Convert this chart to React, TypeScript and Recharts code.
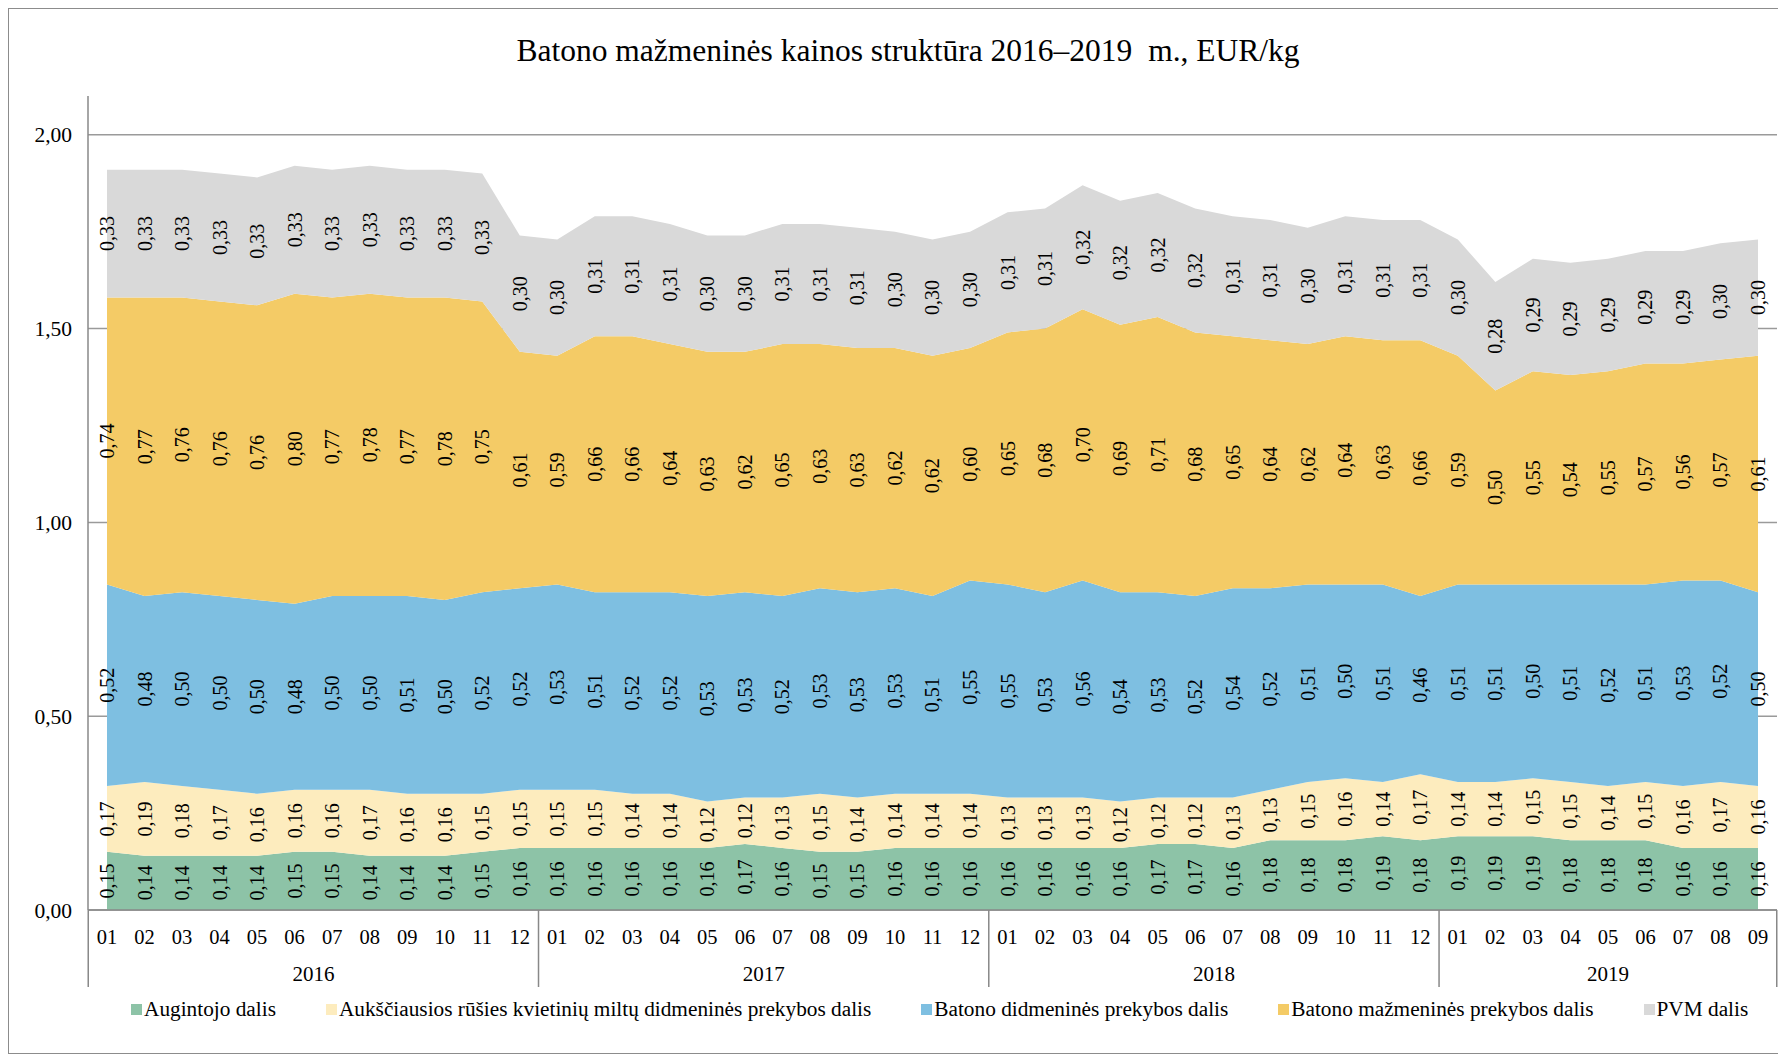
import React from "react";
import {
  ComposedChart,
  Area,
  Line,
  XAxis,
  YAxis,
  CartesianGrid,
  LabelList,
} from "recharts";

// Periods: years and how many months each has in the chart
const years = ["2016", "2017", "2018", "2019"];
const monthsInYear = [12, 12, 12, 9];

// Series values, EUR/kg, 2016-01 .. 2019-09
const augintojo = [
  0.15, 0.14, 0.14, 0.14, 0.14, 0.15, 0.15, 0.14, 0.14, 0.14, 0.15, 0.16,
  0.16, 0.16, 0.16, 0.16, 0.16, 0.17, 0.16, 0.15, 0.15, 0.16, 0.16, 0.16,
  0.16, 0.16, 0.16, 0.16, 0.17, 0.17, 0.16, 0.18, 0.18, 0.18, 0.19, 0.18,
  0.19, 0.19, 0.19, 0.18, 0.18, 0.18, 0.16, 0.16, 0.16,
];
const miltu = [
  0.17, 0.19, 0.18, 0.17, 0.16, 0.16, 0.16, 0.17, 0.16, 0.16, 0.15, 0.15,
  0.15, 0.15, 0.14, 0.14, 0.12, 0.12, 0.13, 0.15, 0.14, 0.14, 0.14, 0.14,
  0.13, 0.13, 0.13, 0.12, 0.12, 0.12, 0.13, 0.13, 0.15, 0.16, 0.14, 0.17,
  0.14, 0.14, 0.15, 0.15, 0.14, 0.15, 0.16, 0.17, 0.16,
];
const didmenine = [
  0.52, 0.48, 0.5, 0.5, 0.5, 0.48, 0.5, 0.5, 0.51, 0.5, 0.52, 0.52,
  0.53, 0.51, 0.52, 0.52, 0.53, 0.53, 0.52, 0.53, 0.53, 0.53, 0.51, 0.55,
  0.55, 0.53, 0.56, 0.54, 0.53, 0.52, 0.54, 0.52, 0.51, 0.5, 0.51, 0.46,
  0.51, 0.51, 0.5, 0.51, 0.52, 0.51, 0.53, 0.52, 0.5,
];
const mazmenine = [
  0.74, 0.77, 0.76, 0.76, 0.76, 0.8, 0.77, 0.78, 0.77, 0.78, 0.75, 0.61,
  0.59, 0.66, 0.66, 0.64, 0.63, 0.62, 0.65, 0.63, 0.63, 0.62, 0.62, 0.6,
  0.65, 0.68, 0.7, 0.69, 0.71, 0.68, 0.65, 0.64, 0.62, 0.64, 0.63, 0.66,
  0.59, 0.5, 0.55, 0.54, 0.55, 0.57, 0.56, 0.57, 0.61,
];
const pvm = [
  0.33, 0.33, 0.33, 0.33, 0.33, 0.33, 0.33, 0.33, 0.33, 0.33, 0.33, 0.3,
  0.3, 0.31, 0.31, 0.31, 0.3, 0.3, 0.31, 0.31, 0.31, 0.3, 0.3, 0.3,
  0.31, 0.31, 0.32, 0.32, 0.32, 0.32, 0.31, 0.31, 0.3, 0.31, 0.31, 0.31,
  0.3, 0.28, 0.29, 0.29, 0.29, 0.29, 0.29, 0.3, 0.3,
];

const yTicks = [0, 0.5, 1, 1.5, 2];

const series = [
  { key: "aug", name: "Augintojo dalis", values: augintojo, color: "#8DC3A7" },
  { key: "milt", name: "Aukščiausios rūšies kvietinių miltų didmeninės prekybos dalis", values: miltu, color: "#FDECBE" },
  { key: "didm", name: "Batono didmeninės prekybos dalis", values: didmenine, color: "#7EBFE1" },
  { key: "mazm", name: "Batono mažmeninės prekybos dalis", values: mazmenine, color: "#F4CB66" },
  { key: "pvm", name: "PVM dalis", values: pvm, color: "#D9D9D9" },
];

const periods: { year: string; month: string; yearIdx: number; first: boolean }[] = [];
years.forEach((y, yi) => {
  for (let m = 1; m <= monthsInYear[yi]; m++) {
    periods.push({ year: y, month: String(m).padStart(2, "0"), yearIdx: yi, first: m === 1 });
  }
});

// table for recharts: values + midpoints of each stacked band (for labels)
const data = periods.map((p, i) => {
  const row: any = { period: `${p.year}-${p.month}` };
  let base = 0;
  series.forEach((s) => {
    const v = s.values[i];
    row[s.key] = v;
    row[s.key + "_mid"] = base + v / 2;
    base += v;
  });
  return row;
});

const W = 1774;
const H = 1044;
const Y_WIDTH = 79;
const M_RIGHT = 6;
const PAD = 19;
const step = (W - Y_WIDTH - M_RIGHT - 2 * PAD) / (periods.length - 1);
const FONT = '"Liberation Serif", "Times New Roman", serif';

const fmt = (v: number) => v.toFixed(2).replace(".", ",");

const MonthTick = (props: any) => {
  const { x, y, index } = props;
  const p = periods[index];
  if (!p) return null;
  const last = index === periods.length - 1;
  const yearCount = monthsInYear[p.yearIdx];
  return (
    <g>
      <text x={x} y={y + 27} textAnchor="middle" dominantBaseline="central" fontSize={20.5} fontFamily={FONT} fill="#000">
        {p.month}
      </text>
      {p.first && (
        <>
          <line x1={x - step / 2} x2={x - step / 2} y1={y} y2={y + 77} stroke="#888" strokeWidth={1.5} />
          <text
            x={x + ((yearCount - 1) / 2) * step}
            y={y + 64}
            textAnchor="middle"
            dominantBaseline="central"
            fontSize={21}
            fontFamily={FONT}
            fill="#000"
          >
            {p.year}
          </text>
        </>
      )}
      {last && <line x1={x + step / 2} x2={x + step / 2} y1={y} y2={y + 77} stroke="#888" strokeWidth={1.5} />}
    </g>
  );
};

const renderValue = (props: any) => {
  const { x, y, value } = props;
  if (x == null || y == null) return null;
  return (
    <text
      x={x}
      y={y}
      transform={`rotate(-90 ${x} ${y})`}
      textAnchor="middle"
      dominantBaseline="central"
      fontSize={20}
      fontFamily={FONT}
      fill="#000"
    >
      {fmt(Number(value))}
    </text>
  );
};

export default function App() {
  return (
    <div
      style={{
        position: "relative",
        width: W,
        height: H,
        border: "1px solid #8c8c8c",
        background: "#fff",
        fontFamily: FONT,
      }}
    >
      <div
        style={{
          position: "absolute",
          top: 23,
          left: 24,
          right: 0,
          textAlign: "center",
          fontSize: 31.5,
          color: "#000",
          lineHeight: "38px",
        }}
      >
        Batono mažmeninės kainos struktūra 2016–2019{"\u00a0"} m., EUR/kg
      </div>

      <ComposedChart
        width={W}
        height={H}
        data={data}
        margin={{ top: 87, right: M_RIGHT, bottom: 63, left: 0 }}
      >
        <CartesianGrid horizontal vertical={false} syncWithTicks stroke="#9a9a9a" strokeWidth={1.5} />
        <XAxis
          dataKey="period"
          interval={0}
          padding={{ left: PAD, right: PAD }}
          tickLine={false}
          tickSize={0}
          tickMargin={0}
          height={80}
          axisLine={{ stroke: "#888", strokeWidth: 1.5 }}
          tick={<MonthTick />}
        />
        <YAxis
          domain={[0, 2.1]}
          ticks={yTicks}
          width={Y_WIDTH}
          tickLine={false}
          tickMargin={10}
          axisLine={{ stroke: "#888", strokeWidth: 1.5 }}
          tickFormatter={fmt}
          tick={{ fontSize: 21.5, fontFamily: FONT, fill: "#000" }}
        />
        {series.map((s) => (
          <Area
            key={s.key}
            type="linear"
            dataKey={s.key}
            name={s.name}
            stackId="1"
            stroke="none"
            fill={s.color}
            fillOpacity={1}
            isAnimationActive={false}
          />
        ))}
        {series.map((s) => (
          <Line
            key={s.key + "_lbl"}
            type="linear"
            dataKey={s.key + "_mid"}
            stroke="none"
            dot={false}
            activeDot={false}
            legendType="none"
            isAnimationActive={false}
          >
            <LabelList dataKey={s.key} content={renderValue} />
          </Line>
        ))}
      </ComposedChart>

      <div
        style={{
          position: "absolute",
          top: 988,
          left: 122,
          display: "flex",
          alignItems: "center",
          gap: 50,
          fontSize: 21.3,
          color: "#000",
          whiteSpace: "nowrap",
        }}
      >
        {series.map((s) => (
          <div key={s.key} style={{ display: "flex", alignItems: "center", gap: 2 }}>
            <span style={{ display: "inline-block", width: 11, height: 11, background: s.color }} />
            <span>{s.name}</span>
          </div>
        ))}
      </div>
    </div>
  );
}
